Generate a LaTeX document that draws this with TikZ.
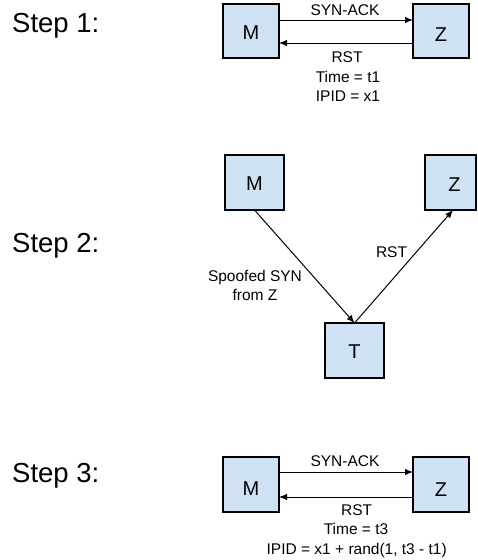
\documentclass[tikz,border=0pt]{standalone}
\usepackage{fontspec}
\setmainfont{Liberation Sans}
\usetikzlibrary{arrows.meta}
\definecolor{boxfill}{HTML}{CFE2F3}
\begin{document}
\begin{tikzpicture}[x=1pt,y=-1pt,
  box/.style={draw=black, line width=1.3pt, fill=boxfill,
    minimum width=#1, minimum height=54pt, inner sep=0pt, outer sep=0pt},
  box/.default=56pt,
  boxletter/.style={font=\fontsize{20}{24}\selectfont, inner sep=0pt},
  steplabel/.style={font=\fontsize{27.5}{33}\selectfont, inner sep=0pt, anchor=base west},
  msg/.style={font=\fontsize{15.5}{19}\selectfont, inner sep=0pt, anchor=base},
  arr/.style={line width=1pt, -{Latex[length=8pt,width=6.5pt]}, shorten >=0pt}
]
\useasboundingbox[fill=white] (0,0) rectangle (478,560);

% ---- Step 1 ----
\node[steplabel] (s1) at (12,32) {Step 1:};
\node[box, label={[boxletter, yshift=-2pt]center:M}] (m1) at (251,31) {};
\node[box, label={[boxletter, yshift=-4pt]center:Z}] (z1) at (441,31) {};
\draw[arr] ([yshift=11pt]m1.east) -- ([yshift=11pt]z1.west);
\draw[arr] ([yshift=-12pt]z1.west) -- ([yshift=-12pt]m1.east);
\node[msg] (syn1) at (345,15.5) {SYN-ACK};
\node[msg] (rst1) at (347,62.7) {RST};
\node[msg] (time1) at (348,82.3) {Time = t1};
\node[msg] (ipid1) at (348,101.7) {IPID = x1};

% ---- Step 2 ----
\node[steplabel] (s2) at (12,252.7) {Step 2:};
\node[box=59pt, minimum height=55pt, label={[boxletter, yshift=-1pt]center:M}] (m2) at (254.5,182.5) {};
\node[box=51pt, minimum height=55pt, label={[boxletter, yshift=-2pt, xshift=4pt]center:Z}] (z2) at (450.5,182.5) {};
\node[box=59pt, minimum height=55pt, label={[boxletter, yshift=-1.5pt]center:T}] (t2) at (354.5,350.5) {};
\draw[arr] (m2.south) -- (t2.north);
\draw[arr] (t2.north) -- ([xshift=2.5pt]z2.south);
\node[msg] (spoof) at (255,281.7) {Spoofed SYN};
\node[msg] (fromz) at (255,300) {from Z};
\node[msg] (rst2) at (391.5,257.3) {RST};

% ---- Step 3 ----
\node[steplabel] (s3) at (12,482.7) {Step 3:};
\node[box, minimum height=55pt, label={[boxletter, yshift=-4pt]center:M}] (m3) at (251,484.5) {};
\node[box, minimum height=55pt, label={[boxletter, yshift=-5pt]center:Z}] (z3) at (441,484.5) {};
\draw[arr] ([yshift=12.5pt]m3.east) -- ([yshift=12.5pt]z3.west);
\draw[arr] ([yshift=-12.5pt]z3.west) -- ([yshift=-12.5pt]m3.east);
\node[msg] (syn3) at (345,466.7) {SYN-ACK};
\node[msg] (rst3) at (356.7,515) {RST};
\node[msg] (time3) at (356,534.7) {Time = t3};
\node[msg] (ipid3) at (356.7,554) {IPID = x1 + rand(1, t3 - t1)};
\end{tikzpicture}
\end{document}
